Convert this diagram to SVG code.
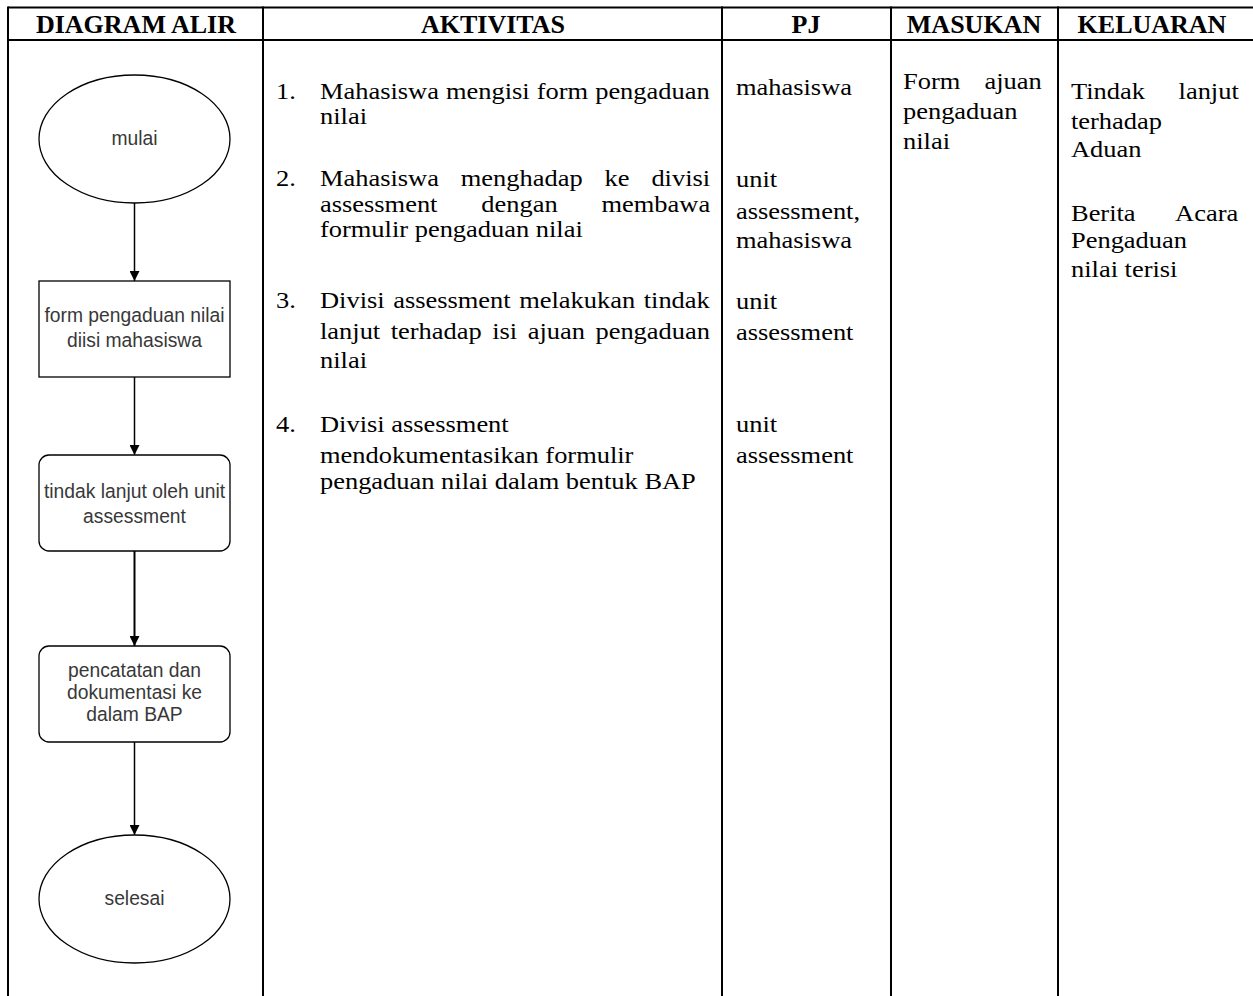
<svg xmlns="http://www.w3.org/2000/svg" width="1253" height="996" viewBox="0 0 1253 996">
<style>
.grid{stroke:#000;stroke-width:2;fill:none}
.hd{font-family:"Liberation Serif","Times New Roman",serif;font-weight:bold;font-size:26px;fill:#000;text-anchor:middle}
.bd{font-family:"Liberation Serif","Times New Roman",serif;font-size:23px;fill:#000}
.shape{fill:#fff;stroke:#000;stroke-width:1.3}
.nt{font-family:"Liberation Sans",Arial,sans-serif;font-size:19.3px;fill:#383838;text-anchor:middle}
.cn{stroke:#000;stroke-width:1.5;fill:none}
</style>
<defs>
<marker id="ah" viewBox="0 0 10 10" refX="10" refY="5" markerWidth="10" markerHeight="10" markerUnits="userSpaceOnUse" orient="auto">
<path d="M0,0 L10,5 L0,10 z" fill="#000"/>
</marker>
</defs>
<rect width="1253" height="996" fill="#fff"/>
<g id="table">
<line class="grid" x1="8" y1="7.5" x2="1253" y2="7.5"/>
<line class="grid" x1="8" y1="40" x2="1253" y2="40"/>
<line class="grid" x1="8" y1="6.5" x2="8" y2="996"/>
<line class="grid" x1="263" y1="6.5" x2="263" y2="996"/>
<line class="grid" x1="722" y1="6.5" x2="722" y2="996"/>
<line class="grid" x1="891" y1="6.5" x2="891" y2="996"/>
<line class="grid" x1="1058" y1="6.5" x2="1058" y2="996"/>
<text class="hd" x="136" y="33">DIAGRAM ALIR</text>
<text class="hd" x="493" y="33">AKTIVITAS</text>
<text class="hd" x="806" y="33">PJ</text>
<text class="hd" x="974" y="33">MASUKAN</text>
<text class="hd" x="1152" y="33">KELUARAN</text>
</g>
<g id="aktivitas-nomor" class="bd" transform="translate(276,0) scale(1.15,1)">
<text x="0" y="99">1.</text>
<text x="0" y="186">2.</text>
<text x="0" y="308">3.</text>
<text x="0" y="432">4.</text>
</g>
<g id="aktivitas" class="bd" transform="translate(320,0) scale(1.15,1)">
<text x="0" y="99" word-spacing="0.4">Mahasiswa mengisi form pengaduan</text>
<text x="0" y="124">nilai</text>
<text x="0" y="186" word-spacing="13.3">Mahasiswa menghadap ke divisi</text>
<text x="0" y="212" word-spacing="32.4">assessment dengan membawa</text>
<text x="0" y="237">formulir pengaduan nilai</text>
<text x="0" y="308" word-spacing="1.7">Divisi assessment melakukan tindak</text>
<text x="0" y="339" word-spacing="3.4">lanjut terhadap isi ajuan pengaduan</text>
<text x="0" y="368">nilai</text>
<text x="0" y="432">Divisi assessment</text>
<text x="0" y="463">mendokumentasikan formulir</text>
<text x="0" y="489">pengaduan nilai dalam bentuk BAP</text>
</g>
<g id="pj" class="bd" transform="translate(736,0) scale(1.15,1)">
<text x="0" y="95">mahasiswa</text>
<text x="0" y="187">unit</text>
<text x="0" y="219">assessment,</text>
<text x="0" y="248">mahasiswa</text>
<text x="0" y="309">unit</text>
<text x="0" y="340">assessment</text>
<text x="0" y="432">unit</text>
<text x="0" y="463">assessment</text>
</g>
<g id="masukan" class="bd" transform="translate(903,0) scale(1.15,1)">
<text x="0" y="89" word-spacing="15.3">Form ajuan</text>
<text x="0" y="119">pengaduan</text>
<text x="0" y="149">nilai</text>
</g>
<g id="keluaran" class="bd" transform="translate(1071,0) scale(1.15,1)">
<text x="0" y="99" word-spacing="23.5">Tindak lanjut</text>
<text x="0" y="129">terhadap</text>
<text x="0" y="157">Aduan</text>
<text x="0" y="221" word-spacing="29.9">Berita Acara</text>
<text x="0" y="248">Pengaduan</text>
<text x="0" y="277">nilai terisi</text>
</g>
<g id="connectors">
<line class="cn" x1="134.5" y1="203" x2="134.5" y2="281" marker-end="url(#ah)"/>
<line class="cn" x1="134.5" y1="377" x2="134.5" y2="455" marker-end="url(#ah)"/>
<line class="cn" x1="134.5" y1="551" x2="134.5" y2="646" marker-end="url(#ah)" style="stroke-width:2"/>
<line class="cn" x1="134.5" y1="742" x2="134.5" y2="835" marker-end="url(#ah)"/>
</g>
<g id="mulai">
<ellipse class="shape" cx="134.5" cy="139" rx="95.5" ry="64"/>
<text class="nt" x="134.5" y="145">mulai</text>
</g>
<g id="form">
<rect class="shape" x="39" y="281" width="191" height="96"/>
<text class="nt" x="134.5" y="322">form pengaduan nilai</text>
<text class="nt" x="134.5" y="347">diisi mahasiswa</text>
</g>
<g id="tindak">
<rect class="shape" x="39" y="455" width="191" height="96" rx="10"/>
<text class="nt" x="134.5" y="498">tindak lanjut oleh unit</text>
<text class="nt" x="134.5" y="523">assessment</text>
</g>
<g id="pencatatan">
<rect class="shape" x="39" y="646" width="191" height="96" rx="10"/>
<text class="nt" x="134.5" y="677">pencatatan dan</text>
<text class="nt" x="134.5" y="699">dokumentasi ke</text>
<text class="nt" x="134.5" y="721">dalam BAP</text>
</g>
<g id="selesai">
<ellipse class="shape" cx="134.5" cy="899" rx="95.5" ry="64"/>
<text class="nt" x="134.5" y="905">selesai</text>
</g>
</svg>
